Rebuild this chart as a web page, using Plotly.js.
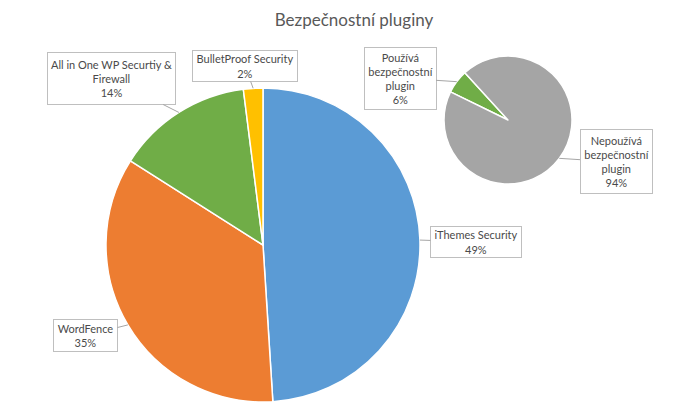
<!DOCTYPE html>
<html>
<head>
<meta charset="utf-8">
<script src="https://cdn.plot.ly/plotly-3.0.1.min.js"></script>
<style>
  html, body { margin: 0; padding: 0; background: #fff; }
  #chart { width: 678px; height: 416px; }
</style>
</head>
<body>
<div id="chart"></div>
<script>
// main pie
var pluginLabels = ['iThemes Security', 'WordFence', 'All in One WP Securtiy & Firewall', 'BulletProof Security'];
var pluginCallouts = ['iThemes Security', 'WordFence', 'All in One WP Securtiy &<br>Firewall', 'BulletProof Security'];
var pluginValues = [49, 35, 14, 2];
var pluginColors = ['#5B9BD5', '#ED7D31', '#70AD47', '#FFC000'];

// small pie
var usageLabels = ['Používá bezpečnostní plugin', 'Nepoužívá bezpečnostní plugin'];
var usageCallouts = ['Používá<br>bezpečnostní<br>plugin', 'Nepoužívá<br>bezpečnostní<br>plugin'];
var usageValues = [6, 94];
var usageColors = ['#70AD47', '#A5A5A5'];

var W = 678, H = 416;
var mainDomain = { x: [106 / W, 420 / W], y: [14 / H, 328 / H] };
var subDomain = { x: [444 / W, 572 / W], y: [232 / H, 360 / H] };

// where the callout boxes sit (pixel centres and sizes)
var mainBoxes = [
  { cx: 476, cy: 242, w: 92, h: 32 },
  { cx: 85.5, cy: 335.5, w: 65, h: 33 },
  { cx: 111.5, cy: 78.5, w: 129, h: 53 },
  { cx: 245, cy: 66, w: 106, h: 32 }
];
var subBoxes = [
  { cx: 400, cy: 78, w: 73, h: 63 },
  { cx: 616, cy: 162, w: 73, h: 65 }
];

var labelFont = { family: 'Lato, "Open Sans", sans-serif', size: 11, color: '#4a4a4a' };

function callouts(values, texts, domain, rotation, boxes) {
  var total = values.reduce(function (a, b) { return a + b; }, 0);
  var cx = (domain.x[0] + domain.x[1]) / 2 * W;
  var cy = H - (domain.y[0] + domain.y[1]) / 2 * H;
  var r = Math.min((domain.x[1] - domain.x[0]) * W, (domain.y[1] - domain.y[0]) * H) / 2;
  var start = rotation;
  var out = [];
  values.forEach(function (v, i) {
    var sweep = v / total * 360;
    var mid = (start + sweep / 2) * Math.PI / 180;
    start += sweep;
    var tx = cx + r * Math.sin(mid);
    var ty = cy - r * Math.cos(mid);
    var b = boxes[i];
    out.push({
      xref: 'paper', yref: 'paper',
      x: tx / W, y: 1 - ty / H,
      ax: b.cx - tx, ay: b.cy - ty,
      text: texts[i] + '<br>' + Math.round(v / total * 100) + '%',
      showarrow: true, arrowhead: 0, arrowwidth: 1, arrowcolor: '#A6A6A6',
      bgcolor: '#FFFFFF', bordercolor: '#BFBFBF', borderwidth: 1, borderpad: 2,
      width: b.w - 6, height: b.h - 6,
      font: labelFont
    });
  });
  return out;
}

var data = [
  {
    type: 'pie',
    labels: pluginLabels,
    values: pluginValues,
    marker: { colors: pluginColors, line: { color: '#FFFFFF', width: 1.5 } },
    domain: mainDomain,
    sort: false,
    direction: 'clockwise',
    rotation: 0,
    textinfo: 'none',
    hoverinfo: 'label+percent'
  },
  {
    type: 'pie',
    labels: usageLabels,
    values: usageValues,
    marker: { colors: usageColors, line: { color: '#FFFFFF', width: 1.5 } },
    domain: subDomain,
    sort: false,
    direction: 'clockwise',
    rotation: -64,
    textinfo: 'none',
    hoverinfo: 'label+percent'
  }
];

var layout = {
  width: W,
  height: H,
  margin: { l: 0, r: 0, t: 0, b: 0 },
  paper_bgcolor: '#FFFFFF',
  showlegend: false,
  title: {
    text: 'Bezpečnostní pluginy',
    font: { family: 'Lato, "Open Sans", sans-serif', size: 17, color: '#595959' },
    x: 354 / W, xanchor: 'center',
    y: 1 - 20 / H, yanchor: 'middle', yref: 'paper'
  },
  annotations: callouts(pluginValues, pluginCallouts, mainDomain, 0, mainBoxes)
    .concat(callouts(usageValues, usageCallouts, subDomain, -64, subBoxes))
};

Plotly.newPlot('chart', data, layout, { displayModeBar: false, staticPlot: true });
</script>
</body>
</html>
